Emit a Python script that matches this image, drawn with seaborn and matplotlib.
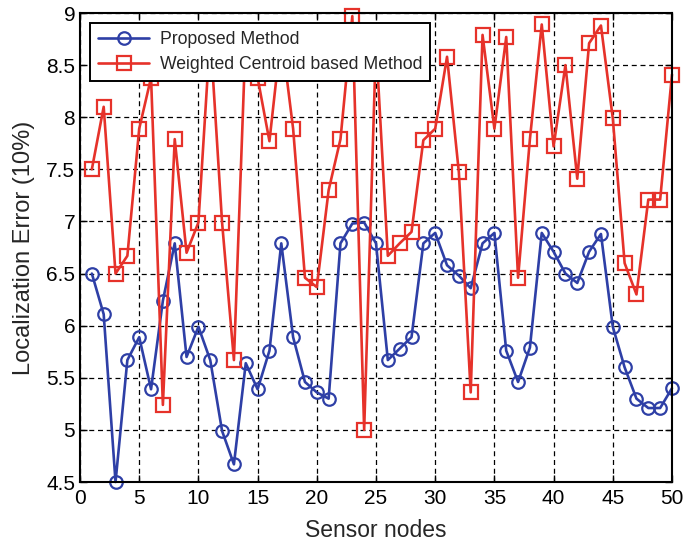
import matplotlib
matplotlib.use("Agg")
import matplotlib.pyplot as plt
import seaborn as sns
import numpy as np
import pandas as pd

# Sensor node index
nodes = list(range(1, 51))

# Localization error of the proposed method (units of 10%)
proposed = [6.50, 6.11, 4.50, 5.67, 5.89, 5.39, 6.24, 6.79, 5.70, 5.99,
            5.67, 4.99, 4.67, 5.64, 5.39, 5.76, 6.79, 5.89, 5.46, 5.36,
            5.30, 6.79, 6.98, 6.99, 6.79, 5.67, 5.78, 5.89, 6.79, 6.89,
            6.58, 6.48, 6.36, 6.79, 6.89, 5.76, 5.46, 5.79, 6.89, 6.71,
            6.50, 6.41, 6.71, 6.88, 5.99, 5.60, 5.30, 5.21, 5.21, 5.40]

# Localization error of the weighted centroid based method
weighted = [7.50, 8.10, 6.50, 6.67, 7.89, 8.38, 5.24, 7.79, 6.70, 6.99,
            8.80, 6.99, 5.67, 8.80, 8.38, 7.77, 8.80, 7.89, 6.46, 6.37,
            7.30, 7.79, 8.97, 5.00, 8.72, 6.67, 6.79, 6.90, 7.78, 7.89,
            8.58, 7.47, 5.36, 8.79, 7.89, 8.77, 6.46, 7.79, 8.89, 7.72,
            8.50, 7.41, 8.71, 8.88, 7.99, 6.60, 6.30, 7.21, 7.21, 8.41]

series_names = ["Proposed Method", "Weighted Centroid based Method"]
series_colors = ["#2E3FA6", "#E6322A"]
series_markers = ["o", "s"]

x_ticks = list(range(0, 51, 5))
y_ticks = [4.5, 5, 5.5, 6, 6.5, 7, 7.5, 8, 8.5, 9]

sns.set_style("ticks")
plt.rcParams["font.family"] = ["Liberation Sans", "DejaVu Sans"]
plt.rcParams["xtick.direction"] = "in"
plt.rcParams["ytick.direction"] = "in"

fig, ax = plt.subplots(figsize=(6.85, 5.49), dpi=100)
fig.subplots_adjust(left=0.1168, right=0.981, top=0.9763, bottom=0.122)

for name, vals, col, mk in zip(series_names, [proposed, weighted],
                               series_colors, series_markers):
    sns.lineplot(x=nodes, y=vals, ax=ax, color=col, marker=mk,
                 markersize=9 if mk == "o" else 9.5, markerfacecolor="none",
                 markeredgecolor=col, markeredgewidth=1.6, linewidth=1.9,
                 label=name, clip_on=False)

ax.set_xlim(0, 50)
ax.set_ylim(4.5, 9)
ax.set_xticks(x_ticks)
ax.set_yticks(y_ticks)
ax.set_yticklabels([f"{v:g}" for v in y_ticks])
ax.tick_params(axis="both", labelsize=15, length=5, width=1.0,
               top=True, right=True, colors="black")
ax.tick_params(axis="x", pad=5)
ax.grid(True, color="black", linestyle=(0, (4, 3)), linewidth=0.9)
for sp in ax.spines.values():
    sp.set_visible(True)
    sp.set_linewidth(1.5)
    sp.set_color("black")
    sp.set_zorder(3)

ax.set_xlabel("Sensor nodes", fontsize=16.5, labelpad=8)
ax.set_ylabel("Localization Error (10%)", fontsize=17, labelpad=8)

leg = ax.legend(loc="upper left", bbox_to_anchor=(0.017, 0.978),
                borderaxespad=0, fontsize=12.7, handlelength=2.9,
                fancybox=False, framealpha=1, edgecolor="black",
                borderpad=0.45, labelspacing=0.42, handletextpad=0.6)
leg.get_frame().set_linewidth(1.4)
leg.set_zorder(10)

fig.savefig("out.png", dpi=100)
